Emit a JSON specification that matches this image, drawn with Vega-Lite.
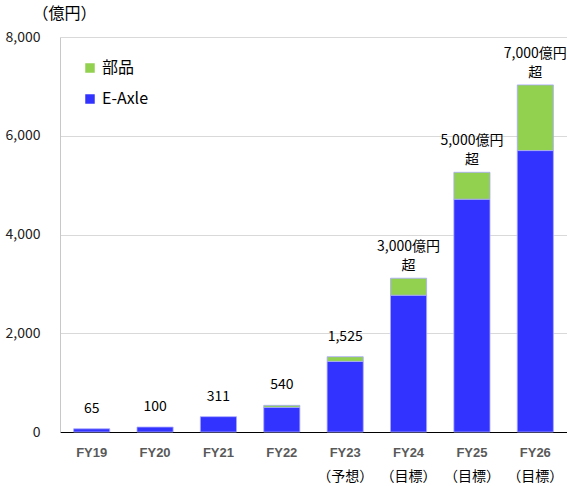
{
  "$schema": "https://vega.github.io/schema/vega-lite/v6.json",
  "width": 507,
  "height": 395,
  "autosize": {"type": "none"},
  "padding": {"left": 60, "top": 37, "right": 0, "bottom": 54},
  "background": "white",
  "config": {
    "view": {"stroke": null},
    "font": "Noto Sans CJK JP"
  },
  "datasets": {
    "bars": [
      {"fy": "FY19|", "series": "E-Axle", "value": 65},
      {"fy": "FY20|", "series": "E-Axle", "value": 100},
      {"fy": "FY21|", "series": "E-Axle", "value": 311},
      {"fy": "FY22|", "series": "E-Axle", "value": 500},
      {"fy": "FY22|", "series": "部品", "value": 40},
      {"fy": "FY23|（予想）", "series": "E-Axle", "value": 1430},
      {"fy": "FY23|（予想）", "series": "部品", "value": 95},
      {"fy": "FY24|（目標）", "series": "E-Axle", "value": 2770},
      {"fy": "FY24|（目標）", "series": "部品", "value": 345},
      {"fy": "FY25|（目標）", "series": "E-Axle", "value": 4715},
      {"fy": "FY25|（目標）", "series": "部品", "value": 545},
      {"fy": "FY26|（目標）", "series": "E-Axle", "value": 5700},
      {"fy": "FY26|（目標）", "series": "部品", "value": 1330}
    ],
    "labels": [
      {"fy": "FY19|", "total": 65, "line1": "", "line2": "", "single": "65"},
      {"fy": "FY20|", "total": 100, "line1": "", "line2": "", "single": "100"},
      {"fy": "FY21|", "total": 311, "line1": "", "line2": "", "single": "311"},
      {"fy": "FY22|", "total": 540, "line1": "", "line2": "", "single": "540"},
      {"fy": "FY23|（予想）", "total": 1525, "line1": "", "line2": "", "single": "1,525"},
      {"fy": "FY24|（目標）", "total": 3115, "line1": "3,000億円", "line2": "超", "single": ""},
      {"fy": "FY25|（目標）", "total": 5260, "line1": "5,000億円", "line2": "超", "single": ""},
      {"fy": "FY26|（目標）", "total": 7030, "line1": "7,000億円", "line2": "超", "single": ""}
    ]
  },
  "resolve": {"axis": {"x": "independent"}},
  "layer": [
    {
      "data": {"name": "bars"},
      "mark": {"type": "bar", "stroke": "#a8a8ff", "strokeWidth": 0.8},
      "encoding": {
        "x": {
          "field": "fy", "type": "nominal", "sort": null,
          "scale": {"paddingInner": 0.43, "paddingOuter": 0.215},
          "axis": {
            "orient": "bottom", "title": null, "labelAngle": 0,
            "labelExpr": "split(datum.value, '|')[0]",
            "labelFont": "Liberation Sans", "labelFontWeight": "bold",
            "labelFontSize": 13, "labelColor": "#595959",
            "ticks": false, "labelPadding": 14,
            "domainColor": "#000000", "domainWidth": 1.2, "grid": false
          }
        },
        "y": {
          "field": "value", "type": "quantitative", "stack": "zero",
          "scale": {"domain": [0, 8000]},
          "axis": {
            "values": [0, 2000, 4000, 6000, 8000],
            "format": ",d",
            "title": "（億円）",
            "titleAngle": 0, "titleAlign": "left", "titleBaseline": "middle",
            "titleX": -28, "titleY": -24,
            "titleFontSize": 16, "titleFontWeight": "normal", "titleColor": "#000000",
            "labelFontSize": 14, "labelColor": "#222222", "labelPadding": 20,
            "ticks": false, "domainColor": "#c8c8c8",
            "gridColor": "#d9d9d9", "gridWidth": 1
          }
        },
        "color": {
          "field": "series", "type": "nominal",
          "scale": {"domain": ["部品", "E-Axle"], "range": ["#92D050", "#3333FF"]},
          "legend": {
            "title": null, "orient": "none", "legendX": 22, "legendY": 23,
            "symbolType": "square", "symbolSize": 90, "symbolStrokeWidth": 0,
            "labelFontSize": 16, "labelColor": "#000000",
            "rowPadding": 15, "labelOffset": 4
          }
        },
        "order": {"field": "series", "sort": "ascending"}
      }
    },
    {
      "data": {"name": "labels"},
      "mark": {"type": "text", "baseline": "bottom", "dy": -13, "fontSize": 14, "color": "#000000"},
      "encoding": {
        "x": {
          "field": "fy", "type": "nominal", "sort": null,
          "axis": {
            "orient": "bottom", "title": null, "labelAngle": 0,
            "labelExpr": "split(datum.value, '|')[1]",
            "labelFontSize": 14, "labelColor": "#000000",
            "ticks": false, "domain": false, "grid": false, "labelPadding": 37
          }
        },
        "y": {"field": "total", "type": "quantitative"},
        "text": {"field": "single"}
      }
    },
    {
      "data": {"name": "labels"},
      "mark": {"type": "text", "baseline": "bottom", "dy": -5, "fontSize": 14, "color": "#000000"},
      "encoding": {
        "x": {"field": "fy", "type": "nominal", "sort": null, "axis": null},
        "y": {"field": "total", "type": "quantitative"},
        "text": {"field": "line2"}
      }
    },
    {
      "data": {"name": "labels"},
      "mark": {"type": "text", "baseline": "bottom", "dy": -24, "fontSize": 14, "color": "#000000"},
      "encoding": {
        "x": {"field": "fy", "type": "nominal", "sort": null, "axis": null},
        "y": {"field": "total", "type": "quantitative"},
        "text": {"field": "line1"}
      }
    }
  ]
}
